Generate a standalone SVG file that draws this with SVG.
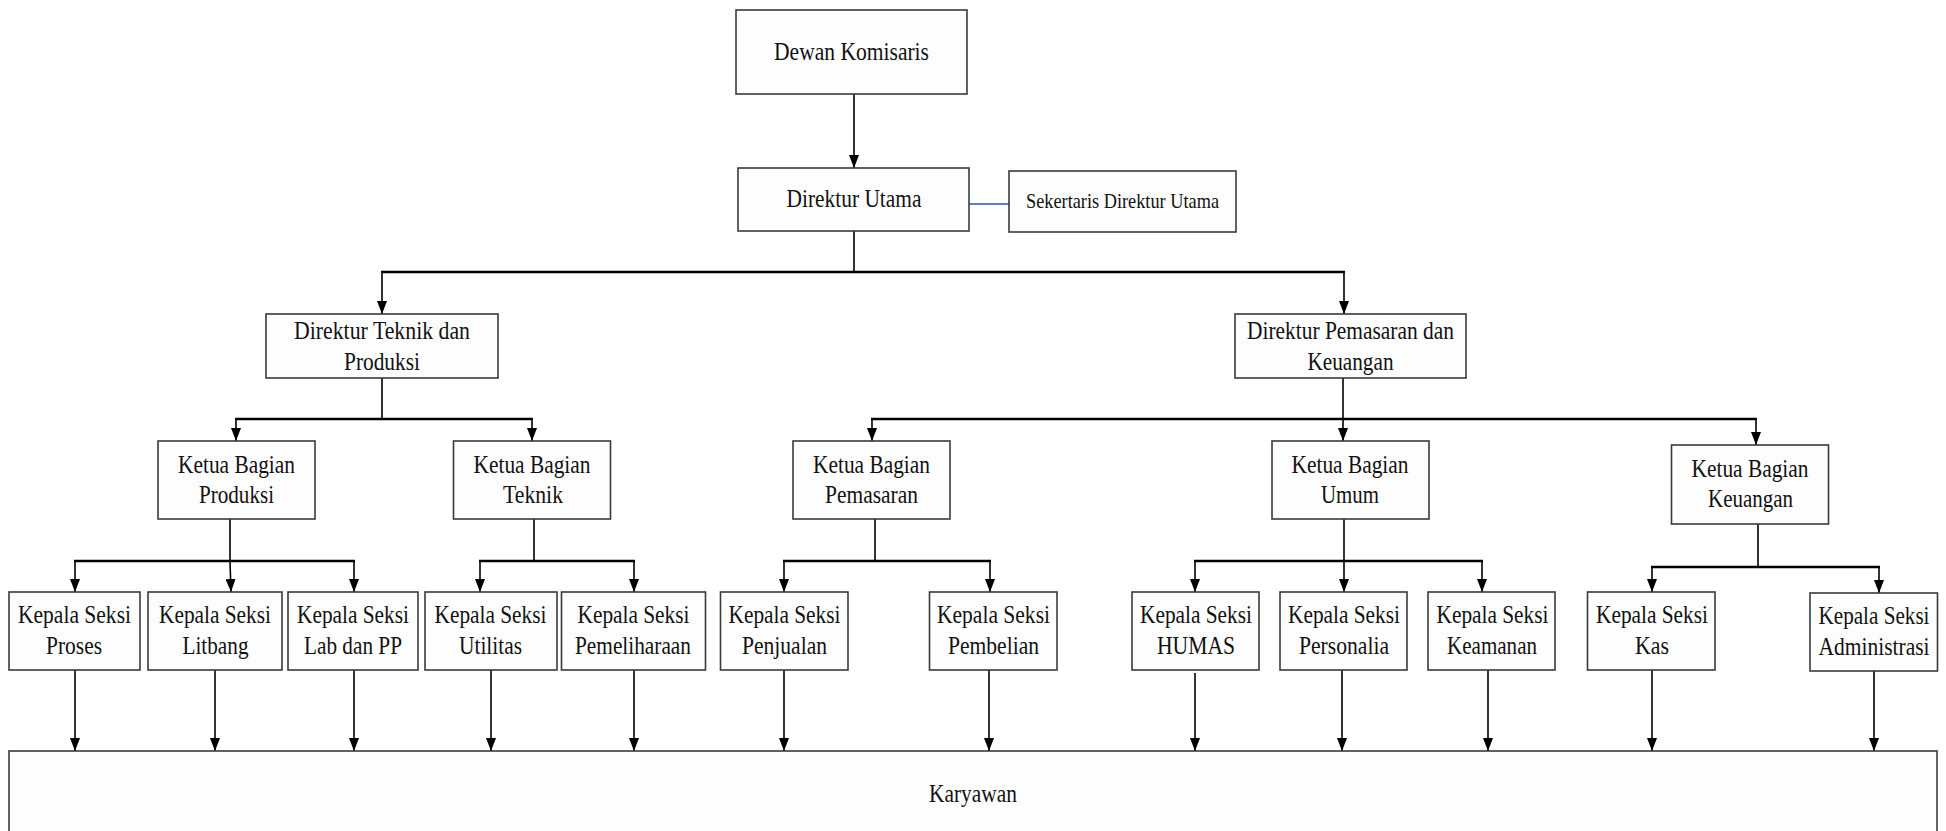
<svg xmlns="http://www.w3.org/2000/svg" width="1946" height="831" viewBox="0 0 1946 831">
<style>
.box{fill:#fdfdfd;stroke:#3a3a3a;stroke-width:1.6}
.t{font-family:"Liberation Serif","Tinos","Times New Roman","DejaVu Serif","Noto Serif",serif;font-size:25px;fill:#111;text-anchor:middle}
.s{font-size:21px}
.c{stroke:#000;stroke-width:1.6;fill:none}
.bus{stroke:#000;stroke-width:2.4;fill:none}
.a{stroke:#000;stroke-width:1.6;fill:none;marker-end:url(#arr)}
</style>
<defs>
<marker id="arr" viewBox="0 0 13 10" refX="13" refY="5" markerWidth="13" markerHeight="10" markerUnits="userSpaceOnUse" orient="auto">
<path d="M0,0 L13,5 L0,10 z" fill="#000"/>
</marker>
</defs>
<rect width="1946" height="831" fill="#fff"/>
<g id="connectors">
<line class="a" x1="854" y1="94" x2="854" y2="168"/>
<line x1="969" y1="204" x2="1009" y2="204" stroke="#5b7fcf" stroke-width="1.8"/>
<line class="c" x1="854" y1="231" x2="854" y2="272"/>
<line class="bus" x1="381" y1="272" x2="1345" y2="272"/>
<line class="a" x1="382" y1="272" x2="382" y2="314"/>
<line class="a" x1="1344" y1="272" x2="1344" y2="314"/>
<line class="c" x1="382" y1="378" x2="382" y2="419"/>
<line class="bus" x1="235" y1="419" x2="533" y2="419"/>
<line class="a" x1="236" y1="419" x2="236" y2="441"/>
<line class="a" x1="532" y1="419" x2="532" y2="441"/>
<line class="c" x1="1343" y1="378" x2="1343" y2="419"/>
<line class="bus" x1="871" y1="419" x2="1757" y2="419"/>
<line class="a" x1="872" y1="419" x2="872" y2="441"/>
<line class="a" x1="1343" y1="419" x2="1343" y2="441"/>
<line class="a" x1="1756" y1="419" x2="1756" y2="445"/>
<line class="c" x1="230" y1="519" x2="230" y2="561"/>
<line class="bus" x1="74" y1="561" x2="355" y2="561"/>
<line class="a" x1="75" y1="561" x2="75" y2="592"/>
<line class="a" x1="230" y1="561" x2="231" y2="592"/>
<line class="a" x1="354" y1="561" x2="354" y2="592"/>
<line class="c" x1="534" y1="519" x2="534" y2="561"/>
<line class="bus" x1="479" y1="561" x2="635" y2="561"/>
<line class="a" x1="480" y1="561" x2="480" y2="592"/>
<line class="a" x1="634" y1="561" x2="634" y2="592"/>
<line class="c" x1="875" y1="519" x2="875" y2="561"/>
<line class="bus" x1="783" y1="561" x2="991" y2="561"/>
<line class="a" x1="784" y1="561" x2="784" y2="592"/>
<line class="a" x1="990" y1="561" x2="990" y2="592"/>
<line class="c" x1="1344" y1="519" x2="1344" y2="561"/>
<line class="bus" x1="1194" y1="561" x2="1483" y2="561"/>
<line class="a" x1="1195" y1="561" x2="1195" y2="592"/>
<line class="a" x1="1344" y1="561" x2="1344" y2="592"/>
<line class="a" x1="1482" y1="561" x2="1482" y2="592"/>
<line class="c" x1="1758" y1="524" x2="1758" y2="567"/>
<line class="bus" x1="1651" y1="567" x2="1880" y2="567"/>
<line class="a" x1="1652" y1="567" x2="1652" y2="592"/>
<line class="a" x1="1879" y1="567" x2="1879" y2="593"/>
<line class="a" x1="75" y1="670" x2="75" y2="751"/>
<line class="a" x1="215" y1="670" x2="215" y2="751"/>
<line class="a" x1="354" y1="670" x2="354" y2="751"/>
<line class="a" x1="491" y1="670" x2="491" y2="751"/>
<line class="a" x1="634" y1="670" x2="634" y2="751"/>
<line class="a" x1="784" y1="670" x2="784" y2="751"/>
<line class="a" x1="989" y1="670" x2="989" y2="751"/>
<line class="a" x1="1195" y1="673" x2="1195" y2="751"/>
<line class="a" x1="1342" y1="670" x2="1342" y2="751"/>
<line class="a" x1="1488" y1="670" x2="1488" y2="751"/>
<line class="a" x1="1652" y1="670" x2="1652" y2="751"/>
<line class="a" x1="1874" y1="671" x2="1874" y2="751"/>
</g>
<g font-family="'Liberation Serif', 'Times New Roman', serif">
<g id="dewan-komisaris"><rect class="box" x="736" y="10" width="231" height="84"/><text class="t" x="851.5" y="60" textLength="155" lengthAdjust="spacingAndGlyphs">Dewan Komisaris</text></g>
<g id="direktur-utama"><rect class="box" x="738" y="168" width="231" height="63"/><text class="t" x="854" y="207" textLength="135" lengthAdjust="spacingAndGlyphs">Direktur Utama</text></g>
<g id="sekretaris"><rect class="box" x="1009" y="171" width="227" height="61"/><text class="t s" x="1122.5" y="208" textLength="193" lengthAdjust="spacingAndGlyphs">Sekertaris Direktur Utama</text></g>
<g id="direktur-teknik"><rect class="box" x="266" y="314" width="232" height="64"/><text class="t" x="382" y="339" textLength="176" lengthAdjust="spacingAndGlyphs">Direktur Teknik dan</text><text class="t" x="382" y="370" textLength="76" lengthAdjust="spacingAndGlyphs">Produksi</text></g>
<g id="direktur-pemasaran"><rect class="box" x="1235" y="314" width="231" height="64"/><text class="t" x="1350.5" y="339" textLength="207" lengthAdjust="spacingAndGlyphs">Direktur Pemasaran dan</text><text class="t" x="1350.5" y="370" textLength="86" lengthAdjust="spacingAndGlyphs">Keuangan</text></g>
<g id="kb-produksi"><rect class="box" x="158" y="441" width="157" height="78"/><text class="t" x="236.5" y="473" textLength="117" lengthAdjust="spacingAndGlyphs">Ketua Bagian</text><text class="t" x="236.5" y="503" textLength="75" lengthAdjust="spacingAndGlyphs">Produksi</text></g>
<g id="kb-teknik"><rect class="box" x="453.5" y="441" width="157" height="78"/><text class="t" x="532" y="473" textLength="117" lengthAdjust="spacingAndGlyphs">Ketua Bagian</text><text class="t" x="533" y="503" textLength="60" lengthAdjust="spacingAndGlyphs">Teknik</text></g>
<g id="kb-pemasaran"><rect class="box" x="793" y="441" width="157" height="78"/><text class="t" x="871.5" y="473" textLength="117" lengthAdjust="spacingAndGlyphs">Ketua Bagian</text><text class="t" x="871.5" y="503" textLength="93" lengthAdjust="spacingAndGlyphs">Pemasaran</text></g>
<g id="kb-umum"><rect class="box" x="1272" y="441" width="157" height="78"/><text class="t" x="1350" y="473" textLength="117" lengthAdjust="spacingAndGlyphs">Ketua Bagian</text><text class="t" x="1350" y="503" textLength="58" lengthAdjust="spacingAndGlyphs">Umum</text></g>
<g id="kb-keuangan"><rect class="box" x="1671.5" y="445" width="157" height="79"/><text class="t" x="1750" y="477" textLength="117" lengthAdjust="spacingAndGlyphs">Ketua Bagian</text><text class="t" x="1750.5" y="507" textLength="85" lengthAdjust="spacingAndGlyphs">Keuangan</text></g>
<g id="ks-proses"><rect class="box" x="9" y="592" width="131" height="78"/><text class="t" x="74.5" y="623" textLength="113" lengthAdjust="spacingAndGlyphs">Kepala Seksi</text><text class="t" x="74" y="654" textLength="56" lengthAdjust="spacingAndGlyphs">Proses</text></g>
<g id="ks-litbang"><rect class="box" x="148" y="592" width="134" height="78"/><text class="t" x="215" y="623" textLength="112" lengthAdjust="spacingAndGlyphs">Kepala Seksi</text><text class="t" x="215.5" y="654" textLength="66" lengthAdjust="spacingAndGlyphs">Litbang</text></g>
<g id="ks-lab"><rect class="box" x="288" y="592" width="130" height="78"/><text class="t" x="353" y="623" textLength="112" lengthAdjust="spacingAndGlyphs">Kepala Seksi</text><text class="t" x="353" y="654" textLength="98" lengthAdjust="spacingAndGlyphs">Lab dan PP</text></g>
<g id="ks-utilitas"><rect class="box" x="425" y="592" width="132" height="78"/><text class="t" x="490.5" y="623" textLength="112" lengthAdjust="spacingAndGlyphs">Kepala Seksi</text><text class="t" x="490.5" y="654" textLength="63" lengthAdjust="spacingAndGlyphs">Utilitas</text></g>
<g id="ks-pemeliharaan"><rect class="box" x="561.5" y="592" width="144" height="78"/><text class="t" x="633.5" y="623" textLength="112" lengthAdjust="spacingAndGlyphs">Kepala Seksi</text><text class="t" x="633" y="654" textLength="116" lengthAdjust="spacingAndGlyphs">Pemeliharaan</text></g>
<g id="ks-penjualan"><rect class="box" x="720.5" y="592" width="127.5" height="78"/><text class="t" x="784.5" y="623" textLength="112" lengthAdjust="spacingAndGlyphs">Kepala Seksi</text><text class="t" x="784.5" y="654" textLength="85" lengthAdjust="spacingAndGlyphs">Penjualan</text></g>
<g id="ks-pembelian"><rect class="box" x="929.5" y="592" width="127.5" height="78"/><text class="t" x="993.5" y="623" textLength="113" lengthAdjust="spacingAndGlyphs">Kepala Seksi</text><text class="t" x="993.5" y="654" textLength="91" lengthAdjust="spacingAndGlyphs">Pembelian</text></g>
<g id="ks-humas"><rect class="box" x="1132" y="592" width="127" height="78"/><text class="t" x="1196" y="623" textLength="112" lengthAdjust="spacingAndGlyphs">Kepala Seksi</text><text class="t" x="1196" y="654" textLength="78" lengthAdjust="spacingAndGlyphs">HUMAS</text></g>
<g id="ks-personalia"><rect class="box" x="1280" y="592" width="127" height="78"/><text class="t" x="1344" y="623" textLength="112" lengthAdjust="spacingAndGlyphs">Kepala Seksi</text><text class="t" x="1344" y="654" textLength="90" lengthAdjust="spacingAndGlyphs">Personalia</text></g>
<g id="ks-keamanan"><rect class="box" x="1428" y="592" width="127" height="78"/><text class="t" x="1492.5" y="623" textLength="112" lengthAdjust="spacingAndGlyphs">Kepala Seksi</text><text class="t" x="1492" y="654" textLength="90" lengthAdjust="spacingAndGlyphs">Keamanan</text></g>
<g id="ks-kas"><rect class="box" x="1587.5" y="592" width="127.5" height="78"/><text class="t" x="1652" y="623" textLength="112" lengthAdjust="spacingAndGlyphs">Kepala Seksi</text><text class="t" x="1652" y="654" textLength="34" lengthAdjust="spacingAndGlyphs">Kas</text></g>
<g id="ks-administrasi"><rect class="box" x="1810" y="593" width="127.5" height="78"/><text class="t" x="1874" y="624" textLength="111" lengthAdjust="spacingAndGlyphs">Kepala Seksi</text><text class="t" x="1874" y="655" textLength="111" lengthAdjust="spacingAndGlyphs">Administrasi</text></g>
<g id="karyawan"><rect class="box" x="9" y="751" width="1928" height="110"/><text class="t" x="973" y="802" textLength="88" lengthAdjust="spacingAndGlyphs">Karyawan</text></g>
</g>
</svg>
